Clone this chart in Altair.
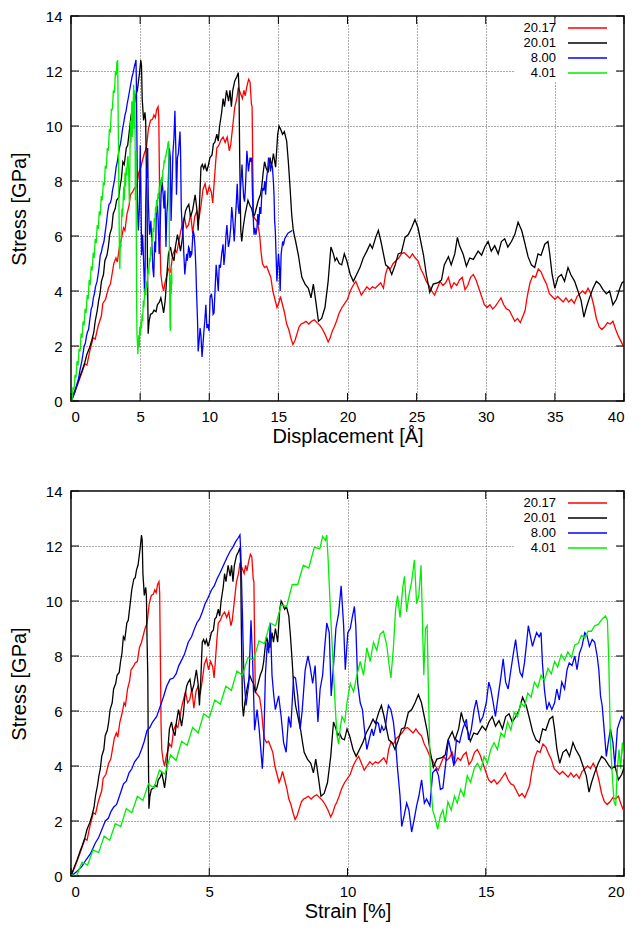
import altair as alt
import pandas as pd

series_names = ["20.17", "20.01", "8.00", "4.01"]
series_colors = ["#ff0000", "#000000", "#0000ff", "#00ee00"]
series_widths = [1.3, 1.3, 1.5, 2.2]
# strain [%] per displacement [Å] for each series
strain_per_disp = {"20.17": 0.505, "20.01": 0.505, "8.00": 1.30, "4.01": 2.74}

# (displacement [Å], stress [GPa])
red_disp_stress = [
    (0.0,0.0),(0.3,0.35),(0.55,0.7),(0.8,1.05),(1.0,1.35),(1.15,1.3),(1.35,1.8),(1.6,2.3),(1.75,2.25),(1.95,2.7),
    (2.2,3.1),(2.3,3.55),(2.5,3.7),(2.7,4.1),(2.85,4.25),(3.0,4.7),(3.1,5.0),(3.25,5.2),(3.35,5.05),(3.5,5.6),
    (3.65,5.9),(3.8,6.3),(3.9,6.2),(4.05,6.8),(4.2,7.1),(4.3,7.5),(4.45,7.6),(4.6,7.75),(4.75,7.8),(4.9,8.3),
    (5.05,8.5),(5.2,8.8),(5.3,9.0),(5.45,9.2),(5.6,9.9),(5.75,10.2),(5.9,10.25),(6.0,10.4),(6.1,10.3),(6.2,10.6),
    (6.3,10.7),(6.35,10.3),(6.4,8.0),(6.45,5.5),(6.5,4.6),(6.6,4.2),(6.7,4.0),(6.8,4.3),(6.9,4.5),(7.05,4.8),
    (7.2,4.7),(7.35,5.3),(7.5,5.5),(7.65,5.4),(7.8,5.8),(7.95,6.2),(8.1,6.5),(8.2,6.7),(8.35,6.3),(8.5,6.4),
    (8.65,6.8),(8.8,6.1),(8.95,6.7),(9.1,6.9),(9.25,6.6),(9.4,7.1),(9.55,7.7),(9.7,7.9),(9.85,7.5),(10.0,7.8),
    (10.15,7.6),(10.25,7.2),(10.35,7.9),(10.45,8.6),(10.55,9.2),(10.7,9.3),(10.85,9.5),(11.0,9.6),(11.15,9.4),(11.3,9.6),
    (11.45,9.1),(11.55,9.3),(11.7,10.0),(11.85,10.7),(12.0,11.0),(12.1,11.4),(12.25,11.2),(12.4,11.0),(12.5,11.3),(12.6,11.1),
    (12.75,11.5),(12.85,11.7),(12.95,11.6),(13.05,10.8),(13.1,10.7),(13.15,8.5),(13.2,6.7),(13.35,6.6),(13.5,6.5),(13.65,6.0),
    (13.75,5.4),(13.85,5.0),(14.0,4.85),(14.15,4.9),(14.3,4.7),(14.45,4.5),(14.6,4.0),(14.75,3.7),(14.9,3.4),(15.05,3.6),
    (15.15,3.8),(15.3,3.5),(15.45,3.2),(15.6,2.8),(15.75,2.6),(15.9,2.3),(16.05,2.05),(16.2,2.2),(16.35,2.45),(16.5,2.7),
    (16.65,2.8),(16.85,2.85),(17.0,2.9),(17.2,2.8),(17.4,2.9),(17.6,2.95),(17.8,2.85),(18.0,2.75),(18.2,2.6),(18.4,2.4),
    (18.6,2.15),(18.75,2.3),(18.9,2.55),(19.05,2.7),(19.2,2.9),(19.4,3.2),(19.6,3.4),(19.8,3.55),(20.0,3.7),(20.2,4.0),
    (20.4,4.2),(20.6,4.35),(20.8,4.1),(21.0,3.85),(21.2,4.0),(21.4,4.15),(21.6,4.05),(21.8,4.15),(22.0,4.1),(22.2,4.2),
    (22.4,4.3),(22.6,4.1),(22.75,4.6),(22.9,4.85),(23.1,4.8),(23.3,5.0),(23.5,5.1),(23.7,5.2),(23.9,5.35),(24.1,5.4),
    (24.3,5.3),(24.5,5.2),(24.7,5.35),(24.9,5.2),(25.1,5.1),(25.3,4.8),(25.5,4.6),(25.7,4.35),(25.9,4.2),(26.1,4.0),
    (26.3,3.85),(26.5,4.1),(26.7,4.35),(26.9,4.2),(27.1,4.3),(27.3,4.5),(27.5,4.1),(27.7,4.3),(27.9,4.2),(28.1,4.4),
    (28.3,4.5),(28.5,4.05),(28.7,4.2),(28.9,4.5),(29.1,4.6),(29.3,4.4),(29.5,4.1),(29.7,3.8),(29.9,3.5),(30.1,3.4),
    (30.3,3.5),(30.5,3.35),(30.7,3.45),(30.9,3.6),(31.1,3.75),(31.3,3.5),(31.5,3.35),(31.7,3.3),(31.9,3.1),(32.1,2.9),
    (32.3,3.0),(32.5,2.85),(32.7,3.1),(32.85,3.3),(33.0,3.8),(33.2,4.3),(33.4,4.55),(33.6,4.5),(33.8,4.8),(34.0,4.7),
    (34.2,4.45),(34.4,4.25),(34.6,3.9),(34.8,3.8),(35.0,3.7),(35.2,3.8),(35.4,3.7),(35.6,3.6),(35.8,3.75),(36.0,3.6),
    (36.2,3.7),(36.4,3.55),(36.6,3.8),(36.8,3.9),(37.0,4.0),(37.2,3.9),(37.4,4.1),(37.6,3.9),(37.8,3.5),(38.0,3.0),
    (38.2,2.7),(38.4,2.6),(38.6,2.7),(38.8,2.85),(39.0,2.8),(39.2,2.9),(39.4,2.6),(39.6,2.35),(39.8,2.15),(40.0,1.95),
]

# (displacement [Å], stress [GPa])
black_disp_stress = [
    (0.0,0.0),(0.25,0.35),(0.45,0.6),(0.65,0.9),(0.8,1.1),(1.0,1.4),(1.15,1.7),(1.35,1.95),(1.5,2.2),(1.65,2.5),
    (1.75,2.9),(1.9,3.3),(2.0,3.65),(2.1,3.9),(2.2,4.35),(2.35,4.6),(2.45,5.1),(2.6,5.3),(2.7,5.6),(2.8,6.05),
    (2.95,6.3),(3.05,6.8),(3.2,7.0),(3.3,7.3),(3.45,7.4),(3.55,7.8),(3.65,8.1),(3.75,8.7),(3.85,8.6),(4.0,9.2),
    (4.1,9.3),(4.25,9.95),(4.35,10.4),(4.5,10.8),(4.6,10.85),(4.7,11.15),(4.8,11.3),(4.95,11.9),(5.05,12.4),(5.1,12.2),
    (5.15,11.0),(5.25,10.2),(5.35,10.5),(5.4,10.2),(5.45,8.5),(5.5,7.3),(5.53,5.0),(5.58,2.45),(5.65,2.9),(5.75,3.15),
    (5.9,3.2),(6.0,3.3),(6.15,3.25),(6.25,3.5),(6.4,3.6),(6.5,3.75),(6.6,3.5),(6.7,3.2),(6.8,3.6),(6.85,3.9),
    (6.95,4.7),(7.05,5.35),(7.2,5.6),(7.3,5.3),(7.45,5.1),(7.55,5.6),(7.7,6.05),(7.8,5.8),(7.92,5.45),(8.05,5.9),
    (8.15,6.5),(8.28,6.9),(8.4,7.05),(8.52,7.15),(8.65,6.7),(8.8,6.95),(8.98,7.5),(9.1,7.0),(9.2,6.2),(9.3,7.2),
    (9.4,8.5),(9.5,8.6),(9.6,8.45),(9.7,8.6),(9.82,8.35),(9.95,8.6),(10.05,8.85),(10.2,8.95),(10.3,9.35),(10.4,9.4),
    (10.55,9.7),(10.65,9.45),(10.75,10.0),(10.9,10.5),(11.0,11.0),(11.1,10.7),(11.25,11.3),(11.4,10.9),(11.5,11.3),(11.6,10.7),
    (11.7,11.3),(11.85,11.65),(12.0,11.8),(12.1,11.94),(12.15,11.4),(12.2,9.0),(12.28,6.2),(12.35,5.8),(12.45,6.3),(12.6,6.8),
    (12.8,7.3),(12.95,7.1),(13.07,7.0),(13.2,6.7),(13.3,6.8),(13.45,7.1),(13.55,7.3),(13.7,7.5),(13.8,7.8),(13.9,8.3),
    (14.0,8.7),(14.1,8.5),(14.25,8.3),(14.4,8.85),(14.5,8.5),(14.64,9.0),(14.8,8.5),(14.95,9.7),(15.05,10.0),(15.15,9.9),
    (15.3,9.7),(15.43,9.8),(15.6,9.45),(15.72,8.7),(15.84,7.8),(15.96,6.8),(16.08,6.2),(16.25,5.8),(16.45,5.3),(16.6,4.8),
    (16.7,4.5),(16.93,4.25),(17.17,4.1),(17.36,3.75),(17.53,4.25),(17.7,3.65),(17.9,2.9),(18.13,3.0),(18.37,3.4),(18.6,4.35),
    (18.8,5.6),(18.98,5.35),(19.1,5.1),(19.22,5.2),(19.4,5.0),(19.58,4.95),(19.77,5.35),(19.95,5.1),(20.2,4.6),(20.42,4.35),
    (20.66,4.6),(20.9,4.85),(21.14,5.2),(21.4,5.45),(21.63,5.7),(21.8,5.55),(22.04,5.95),(22.23,6.2),(22.42,5.8),(22.6,5.35),
    (22.76,4.95),(23.0,4.85),(23.2,4.6),(23.45,4.95),(23.67,5.35),(23.9,5.4),(24.16,5.95),(24.4,6.05),(24.64,6.3),(24.88,6.6),
    (25.1,6.3),(25.3,5.8),(25.5,5.3),(25.7,4.6),(25.95,3.95),(26.2,4.25),(26.55,4.3),(26.8,4.4),(27.0,4.95),(27.3,5.25),
    (27.5,4.95),(27.76,5.35),(27.95,5.95),(28.1,5.65),(28.36,5.35),(28.6,4.9),(28.84,5.2),(29.1,5.15),(29.45,5.45),(29.7,5.3),
    (29.93,5.6),(30.17,5.8),(30.4,5.45),(30.65,5.65),(30.9,5.35),(31.13,5.8),(31.37,5.9),(31.6,5.6),(31.86,5.8),(32.1,6.05),
    (32.34,6.5),(32.6,6.2),(32.8,5.8),(33.06,5.25),(33.3,4.95),(33.54,4.85),(33.78,5.35),(34.0,5.3),(34.27,5.7),(34.5,5.8),
    (34.63,5.35),(34.8,4.6),(35.0,4.1),(35.23,4.5),(35.47,4.6),(35.7,4.35),(35.95,4.85),(36.15,4.6),(36.43,4.35),(36.67,4.0),
    (36.9,3.65),(37.1,3.05),(37.28,3.4),(37.5,3.75),(37.76,4.1),(38.0,4.35),(38.24,4.25),(38.48,4.05),(38.72,3.9),(38.96,4.0),
    (39.2,3.5),(39.45,3.7),(39.7,4.1),(39.86,4.3),(40.0,4.35),
]

# (strain [%], stress [GPa])
blue_strain_stress = [
    (0.0,0.0),(0.2,0.15),(0.4,0.36),(0.55,0.6),(0.7,0.8),(0.88,1.2),(1.0,1.4),(1.1,1.65),(1.24,2.0),(1.35,2.1),
    (1.45,2.35),(1.54,2.5),(1.65,2.6),(1.75,2.9),(1.9,3.35),(2.0,3.45),(2.1,3.75),(2.2,3.9),(2.3,4.15),(2.45,4.35),
    (2.55,4.6),(2.65,4.9),(2.75,5.3),(2.85,5.4),(2.95,5.6),(3.1,5.8),(3.22,6.15),(3.34,6.5),(3.46,6.9),(3.58,7.15),
    (3.7,7.2),(3.8,7.35),(3.9,7.65),(4.0,7.85),(4.1,8.05),(4.24,8.5),(4.36,8.7),(4.45,8.95),(4.55,9.2),(4.65,9.35),
    (4.75,9.6),(4.85,9.9),(4.95,10.1),(5.08,10.4),(5.18,10.55),(5.28,10.8),(5.38,11.0),(5.47,11.2),(5.56,11.4),(5.65,11.6),
    (5.75,11.8),(5.85,11.95),(5.95,12.15),(6.05,12.3),(6.11,12.4),(6.14,11.8),(6.2,9.5),(6.25,7.3),(6.33,6.2),(6.43,7.0),
    (6.51,9.3),(6.57,7.8),(6.64,5.3),(6.73,6.05),(6.8,5.4),(6.92,3.9),(6.97,4.8),(7.03,7.3),(7.1,8.5),(7.15,8.1),
    (7.21,9.2),(7.27,7.3),(7.33,6.6),(7.39,6.05),(7.51,6.55),(7.6,5.8),(7.69,4.85),(7.78,4.5),(7.87,5.8),(7.95,5.4),
    (8.05,7.25),(8.12,7.2),(8.2,6.55),(8.29,5.35),(8.36,6.0),(8.47,7.5),(8.57,8.0),(8.65,7.6),(8.74,7.0),(8.83,7.65),
    (8.93,5.6),(9.01,6.8),(9.1,7.3),(9.17,8.25),(9.25,9.2),(9.34,8.85),(9.41,6.55),(9.5,7.75),(9.58,9.0),(9.68,9.55),
    (9.77,10.55),(9.86,9.1),(9.92,7.5),(10.01,8.85),(10.1,9.0),(10.18,9.45),(10.25,9.8),(10.3,9.1),(10.37,7.0),(10.46,6.3),
    (10.54,6.05),(10.61,5.35),(10.7,4.6),(10.78,4.95),(10.88,5.35),(10.94,5.1),(11.0,5.35),(11.06,5.6),(11.12,5.55),(11.18,5.2),
    (11.24,5.45),(11.3,5.3),(11.36,5.35),(11.42,5.8),(11.48,6.2),(11.57,6.05),(11.66,5.6),(11.74,4.85),(11.81,3.9),(11.9,2.9),
    (11.96,1.8),(12.05,2.2),(12.14,2.65),(12.22,2.4),(12.32,1.6),(12.41,2.05),(12.5,2.55),(12.58,2.9),(12.68,3.5),(12.78,2.65),
    (12.86,2.8),(12.98,2.55),(13.08,3.75),(13.2,3.9),(13.29,3.65),(13.36,3.15),(13.45,3.2),(13.57,4.25),(13.65,4.95),(13.75,4.5),
    (13.85,4.0),(13.94,4.95),(14.05,4.85),(14.17,5.35),(14.3,5.7),(14.38,4.95),(14.48,5.35),(14.58,6.05),(14.66,6.4),(14.72,6.05),
    (14.8,5.6),(14.9,5.8),(15.02,6.3),(15.11,7.05),(15.18,6.8),(15.27,6.3),(15.35,5.8),(15.45,6.55),(15.55,7.25),(15.63,7.9),
    (15.72,7.05),(15.81,6.8),(15.91,7.5),(16.0,8.1),(16.08,8.6),(16.15,8.0),(16.24,7.4),(16.32,7.25),(16.4,7.75),(16.48,8.5),
    (16.54,9.1),(16.61,8.75),(16.69,8.35),(16.76,8.6),(16.84,8.85),(16.93,8.7),(17.0,8.85),(17.05,7.75),(17.12,6.8),(17.21,6.05),
    (17.29,6.3),(17.39,6.05),(17.49,6.3),(17.57,6.8),(17.66,6.4),(17.75,7.05),(17.85,6.8),(17.94,7.5),(18.02,7.75),(18.12,7.65),
    (18.22,8.0),(18.3,7.5),(18.39,8.1),(18.48,8.35),(18.58,8.85),(18.66,8.75),(18.75,8.35),(18.85,8.6),(18.94,8.5),(19.03,8.0),
    (19.09,7.5),(19.15,6.55),(19.21,6.2),(19.28,5.35),(19.36,4.35),(19.43,4.85),(19.51,5.35),(19.6,4.85),(19.67,4.0),(19.76,5.35),
    (19.84,5.6),(19.91,5.8),(19.99,5.7),(20.1,5.9),(20.4,6.1),(20.8,6.2),
]

# (strain [%], stress [GPa])
green_strain_stress = [
    (0.0,0.05),(0.2,0.0),(0.4,0.5),(0.6,0.4),(0.8,0.95),(1.0,0.85),(1.2,1.45),(1.4,1.3),(1.6,1.9),(1.8,1.8),
    (2.0,2.45),(2.2,2.3),(2.4,2.9),(2.6,2.75),(2.8,3.35),(3.0,3.2),(3.2,3.85),(3.4,3.7),(3.6,4.4),(3.8,4.2),
    (4.0,4.9),(4.2,4.75),(4.4,5.4),(4.6,5.2),(4.8,5.9),(5.0,5.75),(5.2,6.4),(5.4,6.25),(5.6,6.9),(5.8,6.75),
    (6.0,7.45),(6.2,7.3),(6.4,7.95),(6.6,7.85),(6.8,8.55),(7.0,8.45),(7.2,9.2),(7.4,9.1),(7.6,9.85),(7.8,9.8),
    (8.0,10.6),(8.2,10.6),(8.4,11.3),(8.6,11.2),(8.8,11.95),(9.0,11.9),(9.1,12.35),(9.2,12.2),(9.25,12.4),(9.3,11.5),
    (9.38,9.7),(9.44,8.5),(9.5,7.3),(9.56,6.1),(9.62,5.1),(9.68,4.8),(9.74,5.4),(9.8,5.8),(9.9,5.6),(9.98,6.3),
    (10.1,7.0),(10.22,6.7),(10.34,7.3),(10.46,7.8),(10.58,7.3),(10.7,8.3),(10.82,7.8),(10.94,8.5),(11.06,8.2),(11.18,8.8),
    (11.3,8.9),(11.42,8.4),(11.5,7.7),(11.57,7.2),(11.66,8.3),(11.74,9.7),(11.81,10.2),(11.9,9.4),(12.0,10.5),(12.06,10.9),
    (12.14,9.6),(12.22,10.2),(12.32,10.7),(12.42,11.5),(12.5,9.9),(12.58,10.2),(12.66,11.3),(12.7,9.7),(12.76,7.3),(12.82,9.0),
    (12.88,9.1),(12.94,6.1),(13.0,3.6),(13.08,2.4),(13.18,2.06),(13.26,1.7),(13.36,2.2),(13.45,2.4),(13.53,1.95),(13.63,2.7),
    (13.75,2.4),(13.87,2.9),(13.97,2.65),(14.09,3.15),(14.21,2.9),(14.33,3.65),(14.45,3.4),(14.58,3.9),(14.7,4.1),(14.82,3.85),
    (14.94,4.35),(15.06,4.1),(15.18,4.6),(15.3,4.85),(15.42,4.6),(15.55,5.2),(15.67,5.05),(15.79,5.6),(15.91,5.3),(16.03,5.95),
    (16.15,5.8),(16.27,6.3),(16.4,6.15),(16.52,6.65),(16.64,6.5),(16.76,7.05),(16.88,6.85),(17.0,7.3),(17.12,7.1),(17.25,7.55),
    (17.37,7.35),(17.49,7.8),(17.6,7.6),(17.73,8.05),(17.85,7.85),(17.97,8.15),(18.1,7.95),(18.22,8.4),(18.34,8.45),(18.46,8.75),
    (18.58,8.65),(18.7,8.9),(18.82,8.9),(18.94,9.1),(19.07,9.15),(19.21,9.35),(19.33,9.45),(19.4,9.3),(19.45,7.8),(19.51,4.85),
    (19.58,3.6),(19.64,2.7),(19.7,2.55),(19.76,3.9),(19.82,4.6),(19.88,3.9),(19.94,4.85),(20.0,4.25),
]

disp_ticks = [0, 5, 10, 15, 20, 25, 30, 35, 40]
strain_ticks = [0, 5, 10, 15, 20]
stress_ticks = [0, 2, 4, 6, 8, 10, 12, 14]

# ---- build the long table --------------------------------------------------
rows = []
for name, pts, unit in [
    ("20.17", red_disp_stress, "disp"),
    ("20.01", black_disp_stress, "disp"),
    ("8.00", blue_strain_stress, "strain"),
    ("4.01", green_strain_stress, "strain"),
]:
    k = strain_per_disp[name]
    for i, (xv, sv) in enumerate(pts):
        if unit == "disp":
            d, e = xv, xv * k
        else:
            d, e = xv / k, xv
        rows.append({"series": name, "idx": i, "disp": d, "strain": e, "stress": sv})
df = pd.DataFrame(rows)

W, H = 553, 385
FONT = "Liberation Sans"
TICK = 8
LEG_Y0, LEG_DY = 12.0, 15.0

color_scale = alt.Scale(domain=series_names, range=series_colors)
width_scale = alt.Scale(domain=series_names, range=series_widths)
y_scale = alt.Scale(domain=[0, 14], nice=False, zero=False)


def panel(xfield, xdomain, xticks, xtitle):
    x_scale = alt.Scale(domain=xdomain, nice=False, zero=False)
    x_axis = alt.Axis(values=xticks, title=xtitle, grid=True, ticks=False, domain=False,
                      labelPadding=8, titlePadding=2, format="d")
    y_axis = alt.Axis(values=stress_ticks, title="Stress [GPa]", grid=True, ticks=False, domain=False,
                      labelPadding=9, titlePadding=16, format="d")
    X = alt.X(f"{xfield}:Q", scale=x_scale, axis=x_axis)
    Y = alt.Y("stress:Q", scale=y_scale, axis=y_axis)

    lines = alt.Chart(df).mark_line(clip=True).encode(
        x=X, y=Y,
        color=alt.Color("series:N", scale=color_scale, legend=None),
        strokeWidth=alt.StrokeWidth("series:N", scale=width_scale, legend=None),
        order=alt.Order("idx:Q"),
    )

    box = alt.Chart(pd.DataFrame({"a": [0]})).mark_rect(fill="white").encode(
        x=alt.value(444), x2=alt.value(546), y=alt.value(3), y2=alt.value(65)
    )

    legend_layers = []
    for i, (name, col) in enumerate(zip(series_names, series_colors)):
        ypix = LEG_Y0 + LEG_DY * i
        one = pd.DataFrame({"series": [name]})
        legend_layers.append(
            alt.Chart(one).mark_text(align="right", baseline="middle", fontSize=13, font=FONT,
                                     color="black").encode(
                x=alt.value(485), y=alt.value(ypix), text="series:N")
        )
        legend_layers.append(
            alt.Chart(one).mark_rule(strokeWidth=1.3, color=col).encode(
                x=alt.value(497), x2=alt.value(536), y=alt.value(ypix))
        )

    xt = pd.DataFrame({xfield: xticks})
    yt = pd.DataFrame({"stress": stress_ticks})
    tick_layers = [
        alt.Chart(xt).mark_rule(color="black", strokeWidth=1).encode(
            x=X, y=alt.value(H - TICK), y2=alt.value(H)),
        alt.Chart(xt).mark_rule(color="black", strokeWidth=1).encode(
            x=X, y=alt.value(0), y2=alt.value(TICK)),
        alt.Chart(yt).mark_rule(color="black", strokeWidth=1).encode(
            y=Y, x=alt.value(0), x2=alt.value(TICK)),
        alt.Chart(yt).mark_rule(color="black", strokeWidth=1).encode(
            y=Y, x=alt.value(W - TICK), x2=alt.value(W)),
    ]

    return alt.layer(lines, box, *legend_layers, *tick_layers).properties(width=W, height=H)


top = panel("disp", [0, 40], disp_ticks, "Displacement [Å]")
bottom = panel("strain", [0, 20], strain_ticks, "Strain [%]")

chart = alt.vconcat(top, bottom, spacing=90, bounds="flush").properties(
    padding={"left": 0, "top": 0, "right": 5, "bottom": 5}
).configure(
    font=FONT
).configure_view(
    stroke="black", strokeWidth=1.5
).configure_axis(
    labelFont=FONT, titleFont=FONT, labelFontSize=15, titleFontSize=20,
    titleFontWeight="normal", labelColor="black", titleColor="black",
    gridColor="#555555", gridDash=[1, 2], gridWidth=1, gridOpacity=1,
)

chart.save("out.html", embed_options={"renderer": "svg", "actions": False})
